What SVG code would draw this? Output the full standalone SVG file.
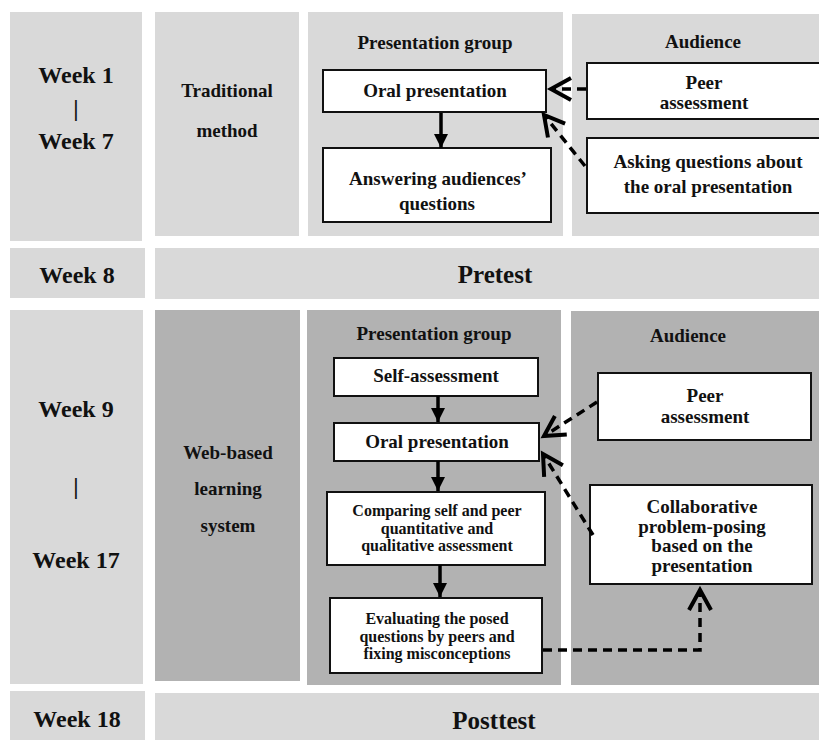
<svg xmlns="http://www.w3.org/2000/svg" width="819" height="740" viewBox="0 0 819 740">
<style>
.light{fill:#d9d9d9}
.dark{fill:#b2b2b2}
.box{fill:#fff;stroke:#111;stroke-width:2}
text{font-family:"Liberation Serif","Times New Roman",serif;font-weight:bold;fill:#111;text-anchor:middle}
.wk{font-size:24px}
.t19{font-size:19px}
.t16{font-size:16px}
.t25{font-size:25px}
.solid{stroke:#000;stroke-width:3.5;fill:none}
.dash{stroke:#000;stroke-width:3.5;fill:none;stroke-dasharray:9 6}
</style>
<defs>
<marker id="solidHead" markerUnits="userSpaceOnUse" viewBox="0 0 14 14" markerWidth="14" markerHeight="14" refX="14" refY="7" orient="auto"><path d="M0,0 L14,7 L0,14 z" fill="#000"/></marker>
<marker id="openHead" markerUnits="userSpaceOnUse" viewBox="-26 -16 34 32" markerWidth="34" markerHeight="32" refX="0" refY="0" orient="auto"><path d="M-20,-11 L0,0 L-20,11" fill="none" stroke="#000" stroke-width="4"/></marker>
</defs>

<g id="panel-week1-7"><rect class="light" x="10" y="12" width="132" height="229"/><text class="wk" x="76" y="83">Week 1</text><text class="wk" x="76" y="116">|</text><text class="wk" x="76" y="149">Week 7</text></g>
<g id="panel-traditional"><rect class="light" x="155" y="12" width="144" height="224"/><text class="t19" x="227" y="97">Traditional</text><text class="t19" x="227" y="137">method</text></g>
<g id="panel-pg-top"><rect class="light" x="308" y="12" width="255" height="224"/><text class="t19" x="435" y="49">Presentation group</text></g>
<g id="panel-aud-top"><rect class="light" x="572" y="14" width="247" height="222"/><text class="t19" x="703" y="48">Audience</text></g>

<g id="node-oral-top"><rect class="box" x="323" y="70" width="223" height="42"/><text class="t19" x="435" y="97">Oral presentation</text></g>
<g id="node-answering"><rect class="box" x="323" y="148" width="228" height="74"/><text class="t19" x="438" y="185">Answering audiences’</text><text class="t19" x="437" y="210">questions</text></g>
<g id="node-peer-top"><rect class="box" x="587" y="63" width="240" height="56"/><text class="t19" x="704" y="89">Peer</text><text class="t19" x="704" y="109">assessment</text></g>
<g id="node-asking"><rect class="box" x="587" y="138" width="240" height="75"/><text class="t19" x="708" y="168">Asking questions about</text><text class="t19" x="708" y="193">the oral presentation</text></g>

<g id="panel-week8"><rect class="light" x="10" y="248" width="135" height="50"/><text class="wk" x="77" y="283">Week 8</text></g>
<g id="panel-pretest"><rect class="light" x="155" y="248" width="664" height="51"/><text class="t25" x="495" y="283">Pretest</text></g>

<g id="panel-week9-17"><rect class="light" x="10" y="310" width="133" height="374"/><text class="wk" x="76" y="417">Week 9</text><text class="wk" x="76" y="494">|</text><text class="wk" x="76" y="568">Week 17</text></g>
<g id="panel-web"><rect class="dark" x="155" y="310" width="145" height="371"/><text class="t19" x="228" y="459">Web-based</text><text class="t19" x="228" y="495">learning</text><text class="t19" x="228" y="532">system</text></g>
<g id="panel-pg-mid"><rect class="dark" x="307" y="310" width="254" height="375"/><text class="t19" x="434" y="340">Presentation group</text></g>
<g id="panel-aud-mid"><rect class="dark" x="571" y="311" width="248" height="374"/><text class="t19" x="688" y="342">Audience</text></g>

<g id="node-self"><rect class="box" x="334" y="358" width="204" height="38"/><text class="t19" x="436" y="382">Self-assessment</text></g>
<g id="node-oral-mid"><rect class="box" x="334" y="423" width="205" height="38"/><text class="t19" x="437" y="448">Oral presentation</text></g>
<g id="node-comparing"><rect class="box" x="327" y="492" width="218" height="73"/><text class="t16" x="437" y="516">Comparing self and peer</text><text class="t16" x="437" y="533.5">quantitative and</text><text class="t16" x="437" y="551">qualitative assessment</text></g>
<g id="node-evaluating"><rect class="box" x="330" y="598" width="212" height="75"/><text class="t16" x="437" y="624">Evaluating the posed</text><text class="t16" x="437" y="641.5">questions by peers and</text><text class="t16" x="437" y="659">fixing misconceptions</text></g>
<g id="node-peer-mid"><rect class="box" x="598" y="373" width="213" height="67"/><text class="t19" x="705" y="402">Peer</text><text class="t19" x="705" y="423">assessment</text></g>
<g id="node-collab"><rect class="box" x="590" y="485" width="222" height="99"/><text class="t19" x="702" y="513">Collaborative</text><text class="t19" x="702" y="532.5">problem-posing</text><text class="t19" x="702" y="552">based on the</text><text class="t19" x="702" y="572">presentation</text></g>

<g id="panel-week18"><rect class="light" x="10" y="691" width="135" height="49"/><text class="wk" x="77" y="727">Week 18</text></g>
<g id="panel-posttest"><rect class="light" x="155" y="693" width="664" height="47"/><text class="t25" x="494" y="729">Posttest</text></g>

<g id="connectors">
<path class="solid" d="M441,113 L441,148" marker-end="url(#solidHead)"/>
<path class="dash" d="M586,89 L551,89" marker-end="url(#openHead)"/>
<path class="dash" d="M585,166 L544,115" marker-end="url(#openHead)"/>
<path class="solid" d="M438,396 L438,422" marker-end="url(#solidHead)"/>
<path class="solid" d="M438,461 L438,491" marker-end="url(#solidHead)"/>
<path class="solid" d="M440,565 L440,597" marker-end="url(#solidHead)"/>
<path class="dash" d="M597,402 L544,436" marker-end="url(#openHead)"/>
<path class="dash" d="M593,535 L543,454" marker-end="url(#openHead)"/>
<path class="dash" d="M543,650 L700,650 L700,590" marker-end="url(#openHead)"/>
</g>
</svg>
